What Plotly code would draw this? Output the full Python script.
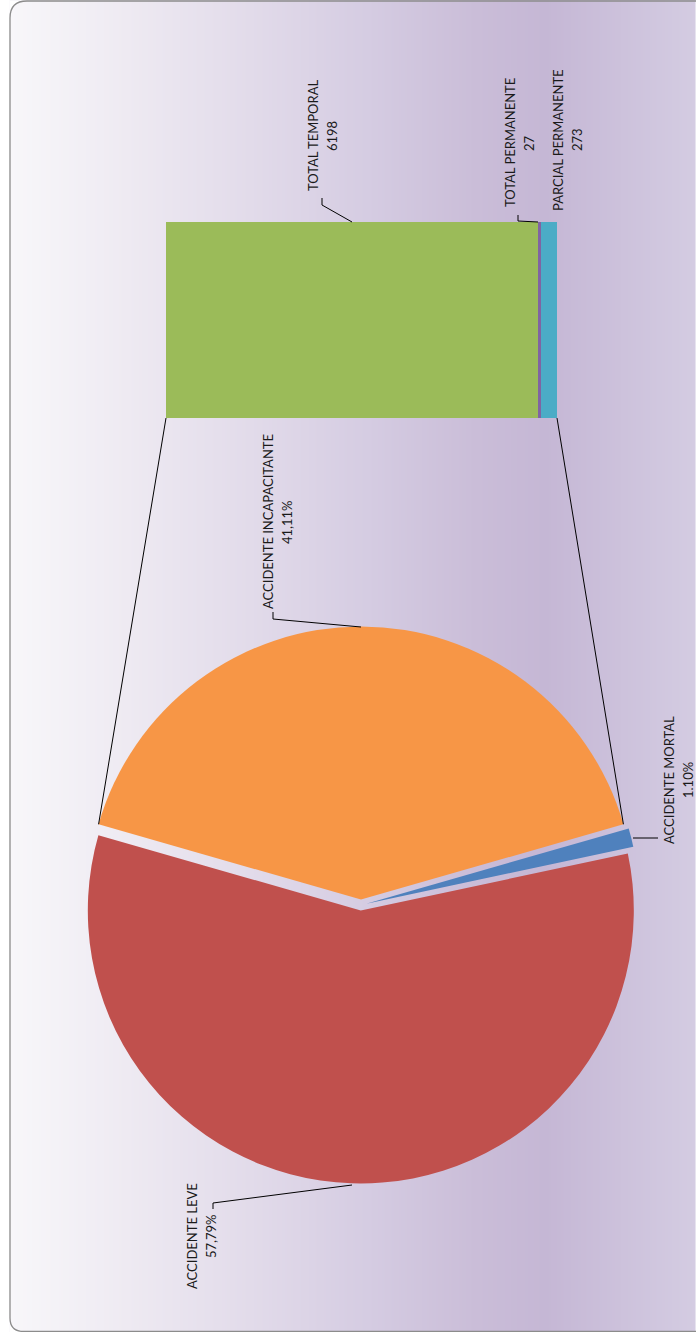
import math
import numpy as np
import plotly.graph_objects as go

# ---------------- data ----------------
pie_labels = ["ACCIDENTE INCAPACITANTE", "ACCIDENTE MORTAL", "ACCIDENTE LEVE"]
pie_values = [41.11, 1.10, 57.79]
pie_value_text = ["41,11%", "1.10%", "57,79%"]

bar_labels = ["TOTAL TEMPORAL", "TOTAL PERMANENTE", "PARCIAL PERMANENTE"]
bar_values = [6198, 27, 273]

# ---------------- styles / layout geometry (pixels) ----------------
pie_colors = ["#f79646", "#4f81bd", "#c0504d"]
bar_colors = ["#9bbb59", "#8064a2", "#4bacc6"]

W, H = 696, 1332
PIE_CX, PIE_CY, PIE_R, PULL = 361, 905, 273, 0.02
BAR_X0, BAR_X1, BAR_Y0, BAR_Y1 = 166, 557, 222, 418

pie_label_pos = [(268, 522), (669, 780), (192, 1236)]
bar_label_pos = [(313, 136), (510, 143), (558, 140)]
LINE_GAP = 19

leader_paths = [
    "M 352,222 L 322,205 L 322,198",
    "M 538,222 L 518,221 L 518,215",
    "M 361,627 L 273,619 L 273,612",
    "M 633,838 L 658,838",
    "M 352,1185 L 213,1203 L 213,1209",
]

FONT = dict(family="Lato, 'Liberation Sans', Arial", size=13, color="#1a1a1a")

fig = go.Figure()

# ---------------- background gradient ----------------
bg_stops = [[0.0, "#f8f7fa"], [0.17, "#eeeaf2"], [0.35, "#e2dbea"],
            [0.52, "#d5cce2"], [0.68, "#cabdd8"], [0.78, "#c5b7d5"],
            [1.0, "#d4cce2"]]
gx = np.linspace(10, W, 140)
gz = (gx - 10) / (W - 10)
fig.add_trace(go.Heatmap(x=gx, y=[1, H], z=[gz, gz], colorscale=bg_stops,
                         zmin=0, zmax=1, zsmooth="best", showscale=False,
                         hoverinfo="skip", xaxis="x", yaxis="y"))

# ---------------- bar of pie ----------------
bar_total = sum(bar_values)
for lab, v, c in zip(bar_labels, bar_values, bar_colors):
    fig.add_trace(go.Bar(x=[v], y=[0], orientation="h", width=1, name=lab,
                         marker=dict(color=c, line=dict(width=0)),
                         xaxis="x2", yaxis="y2", showlegend=False,
                         hoverinfo="name+x"))

# ---------------- pie ----------------
split_share = pie_values[0] / sum(pie_values)
rotation = -split_share * 180.0
half = PIE_R * (1 + PULL)
fig.add_trace(go.Pie(
    labels=pie_labels, values=pie_values, sort=False, direction="clockwise",
    rotation=rotation, pull=[PULL] * len(pie_values), textinfo="none",
    marker=dict(colors=pie_colors, line=dict(width=0)), showlegend=False,
    domain=dict(x=[(PIE_CX - half) / W, (PIE_CX + half) / W],
                y=[1 - (PIE_CY + half) / H, 1 - (PIE_CY - half) / H]),
))

# ---------------- connector lines (from pie geometry to bar corners) ----------------
a0 = math.radians(rotation)
a1 = math.radians(rotation + split_share * 360)
amid = (a0 + a1) / 2
ox, oy = PULL * PIE_R * math.sin(amid), -PULL * PIE_R * math.cos(amid)
p_left = (PIE_CX + ox + PIE_R * math.sin(a0), PIE_CY + oy - PIE_R * math.cos(a0))
p_right = (PIE_CX + ox + PIE_R * math.sin(a1), PIE_CY + oy - PIE_R * math.cos(a1))
shapes = [
    dict(type="line", xref="x", yref="y", x0=p_left[0], y0=p_left[1],
         x1=BAR_X0, y1=BAR_Y1, line=dict(color="#000000", width=1)),
    dict(type="line", xref="x", yref="y", x0=p_right[0], y0=p_right[1],
         x1=BAR_X1, y1=BAR_Y1, line=dict(color="#000000", width=1)),
]
for p in leader_paths:
    shapes.append(dict(type="path", path=p, xref="x", yref="y",
                       line=dict(color="#000000", width=1)))

# rounded frame
shapes.append(dict(type="path", xref="x", yref="y", path="M 10,1 L 27,1 Q 10,1 10,18 Z",
                   fillcolor="white", line=dict(width=0), layer="above"))
shapes.append(dict(type="path", xref="x", yref="y", path="M 10,1332 L 10,1318 Q 10,1332 24,1332 Z",
                   fillcolor="white", line=dict(width=0), layer="above"))
shapes.append(dict(type="rect", xref="x", yref="y", x0=0, x1=9.5, y0=0, y1=H,
                   fillcolor="white", line=dict(width=0), layer="above"))
shapes.append(dict(type="path", xref="x", yref="y",
                   path="M 697,1 L 27,1 Q 10,1 10,18 L 10,1318 Q 10,1331.5 24,1331.5 L 697,1331.5",
                   line=dict(color="#8c8c8c", width=1.3), layer="above"))

# ---------------- labels ----------------
annotations = []
for (x, y), name, val in zip(pie_label_pos + bar_label_pos,
                             pie_labels + bar_labels,
                             pie_value_text + [str(v) for v in bar_values]):
    annotations.append(dict(x=x, y=y, xref="x", yref="y", text=name, textangle=-90,
                            showarrow=False, font=FONT, xanchor="center", yanchor="middle"))
    annotations.append(dict(x=x + LINE_GAP, y=y, xref="x", yref="y", text=val, textangle=-90,
                            showarrow=False, font=FONT, xanchor="center", yanchor="middle"))

hidden = dict(visible=False, fixedrange=True)
fig.update_layout(
    width=W, height=H, margin=dict(l=0, r=0, t=0, b=0),
    paper_bgcolor="white", plot_bgcolor="rgba(0,0,0,0)",
    barmode="stack", showlegend=False,
    xaxis=dict(domain=[0, 1], range=[0, W], anchor="y", **hidden),
    yaxis=dict(domain=[0, 1], range=[H, 0], anchor="x", **hidden),
    xaxis2=dict(domain=[BAR_X0 / W, BAR_X1 / W], range=[0, bar_total], anchor="y2", **hidden),
    yaxis2=dict(domain=[1 - BAR_Y1 / H, 1 - BAR_Y0 / H], range=[-0.5, 0.5], anchor="x2", **hidden),
    shapes=shapes, annotations=annotations,
)

fig.write_html("out.html", config={"displayModeBar": False},
               post_script="document.body.style.margin='0px';document.body.style.overflow='hidden';")
